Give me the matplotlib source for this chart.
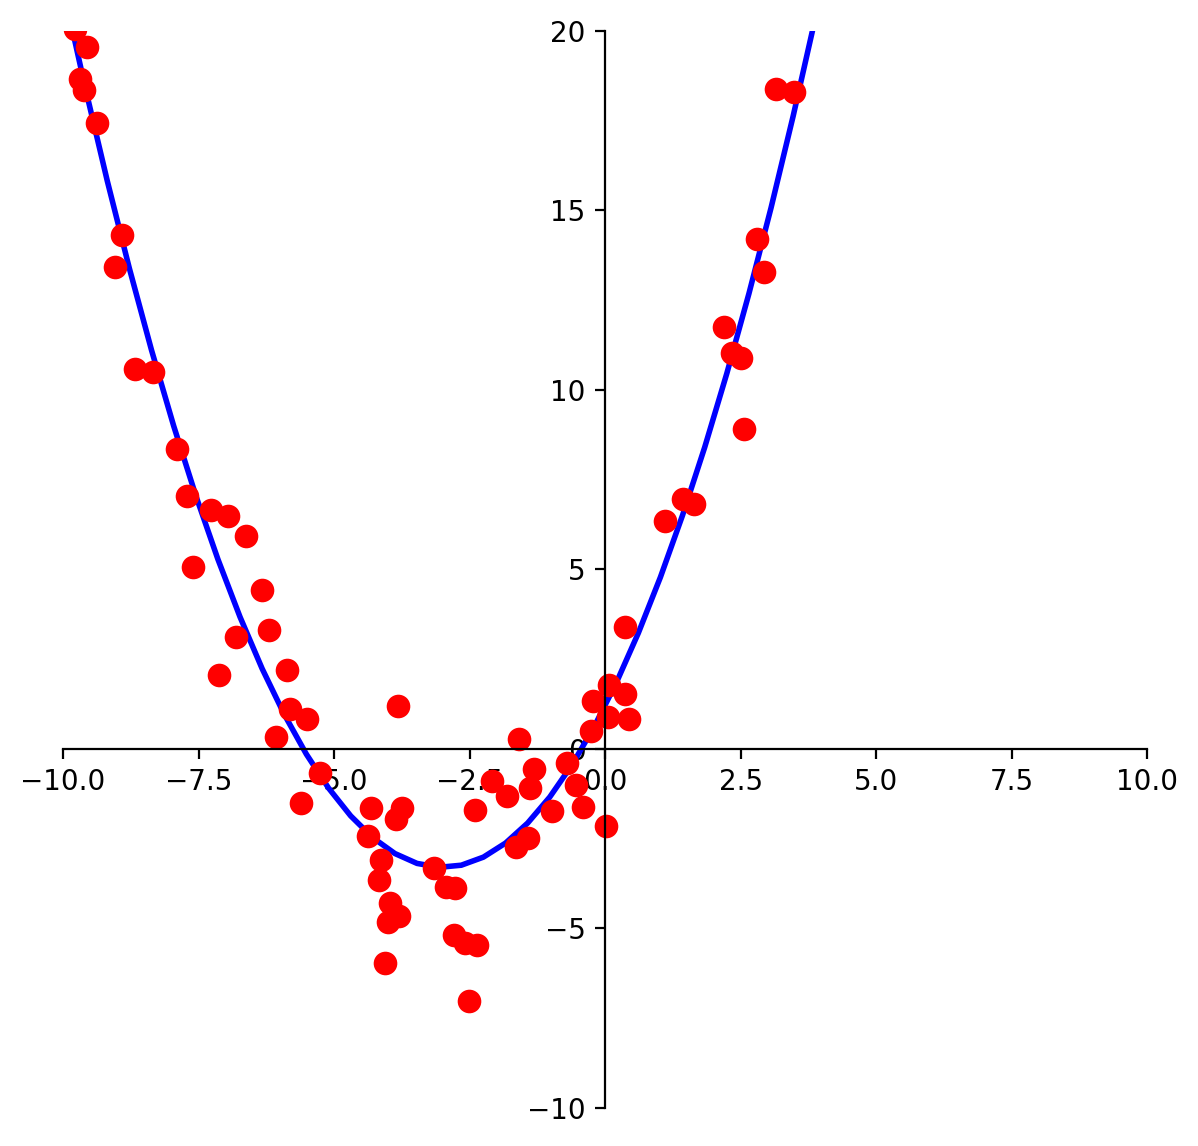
import matplotlib
matplotlib.use("Agg")
import matplotlib.pyplot as plt
import numpy as np

x_pts = [-9.78,-9.69,-9.56,-9.61,-9.37,-8.91,-9.04,-8.67,-8.34,-7.90,-7.71,-7.27,-6.96,-6.62,-7.60,-6.33,-6.81,-6.20,-7.12,-5.87,-5.81,-5.50,-6.07,-5.26,-5.61,-4.32,-4.37,-3.75,-3.86,-4.13,-4.17,-3.97,-4.00,-3.80,-4.06,-3.82,-3.15,-2.93,-2.77,-2.79,-2.58,-2.36,-2.51,-2.40,-2.08,-1.81,-1.59,-1.64,-1.42,-1.38,-1.31,-0.98,-0.70,-0.54,-0.41,-0.26,-0.22,0.02,0.06,0.07,0.37,0.37,0.44,1.11,1.44,1.64,2.20,2.34,2.51,2.56,2.80,2.93,3.15,3.49]
y_pts = [20.05,18.66,19.55,18.36,17.44,14.32,13.43,10.58,10.50,8.36,7.05,6.66,6.49,5.93,5.07,4.43,3.12,3.31,2.06,2.20,1.11,0.84,0.33,-0.67,-1.50,-1.64,-2.42,-1.64,-1.95,-3.09,-3.65,-4.29,-4.82,-4.65,-5.96,1.20,-3.31,-3.84,-3.87,-5.18,-5.40,-5.46,-7.02,-1.70,-0.89,-1.31,0.28,-2.73,-2.48,-1.09,-0.56,-1.73,-0.39,-1.00,-1.62,0.50,1.34,-2.14,0.89,1.78,1.53,3.40,0.84,6.35,6.96,6.82,11.75,11.03,10.89,8.91,14.21,13.29,18.38,18.30]
fit_coeffs = [0.5, 3.0, 1.2]  # fitted quadratic a*x^2 + b*x + c

fig = plt.figure(figsize=(5.99, 5.73), dpi=200)
ax = fig.add_axes([0.0526, 0.0332, 0.905, 0.940])
xl = np.linspace(-10, 10, 50)
ax.plot(xl, np.polyval(fit_coeffs, xl), color='blue', lw=2)
ax.plot(x_pts, y_pts, 'ro', ms=7.5)
ax.set_xlim(-10, 10)
ax.set_ylim(-10, 20)
ax.spines['left'].set_position('zero')
ax.spines['bottom'].set_position('zero')
ax.spines['right'].set_visible(False)
ax.spines['top'].set_visible(False)
fig.savefig("out.png", dpi=200)
